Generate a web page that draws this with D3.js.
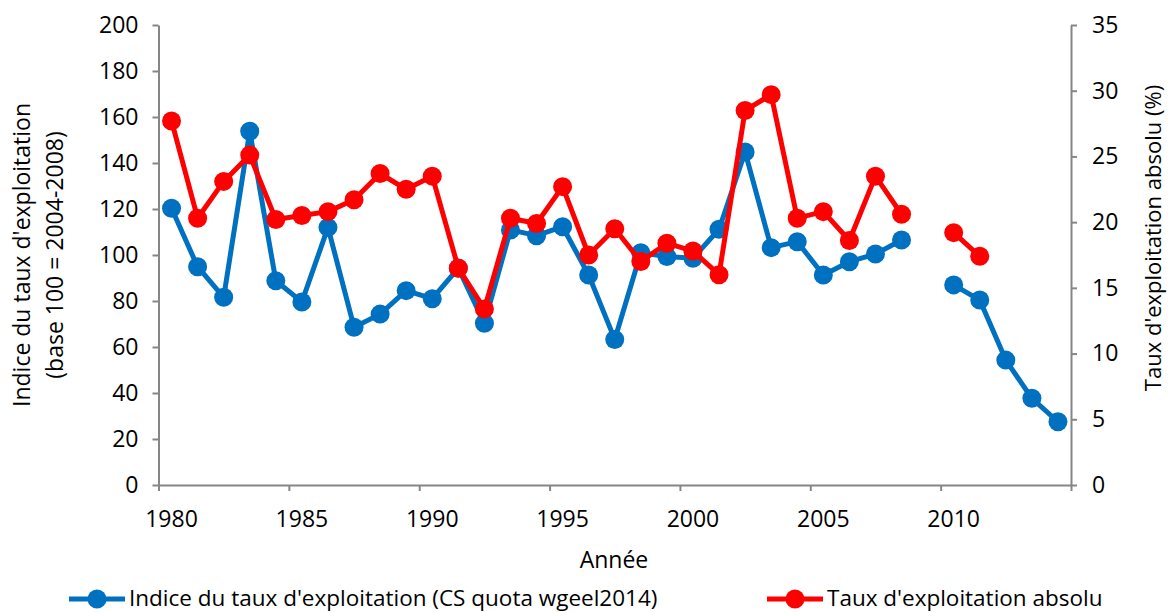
<!DOCTYPE html>
<html>
<head>
<meta charset="utf-8">
<script src="https://cdn.jsdelivr.net/npm/d3@7"></script>
<style>
  body { margin: 0; background: #fff; }
  text { font-family: "Open Sans", sans-serif; fill: #000; }
</style>
</head>
<body>
<script>
// years 1980-2014 (2009 missing)
var years = [1980, 1981, 1982, 1983, 1984, 1985, 1986, 1987, 1988, 1989,
             1990, 1991, 1992, 1993, 1994, 1995, 1996, 1997, 1998, 1999,
             2000, 2001, 2002, 2003, 2004, 2005, 2006, 2007, 2008, 2009,
             2010, 2011, 2012, 2013, 2014];

// Indice du taux d'exploitation (left axis)
var indice = [120.3, 94.9, 81.6, 153.8, 88.8, 79.6, 112, 68.6, 74.3, 84.5,
              81, 94.3, 70.3, 110.9, 108.4, 112.3, 91.3, 63.3, 101, 99.3,
              98.6, 111.2, 144.8, 103.2, 105.8, 91.3, 97.1, 100.4, 106.5, null,
              87, 80.4, 54.3, 37.7, 27.5];

// Taux d'exploitation absolu % (right axis)
var absolu = [27.7, 20.3, 23.1, 25.1, 20.2, 20.5, 20.8, 21.7, 23.7, 22.5,
              23.5, 16.5, 13.4, 20.3, 19.9, 22.7, 17.5, 19.5, 17.0, 18.4,
              17.8, 16.0, 28.5, 29.7, 20.3, 20.8, 18.6, 23.5, 20.6, null,
              19.2, 17.4, null, null, null];

var xTicks = [1980, 1985, 1990, 1995, 2000, 2005, 2010, 2015];
var xLabels = [1980, 1985, 1990, 1995, 2000, 2005, 2010];
var leftTicks = [0, 20, 40, 60, 80, 100, 120, 140, 160, 180, 200];
var rightTicks = [0, 5, 10, 15, 20, 25, 30, 35];

function init(){
    var w = 1169, h = 612;
    var pl = 158.5, pr = 1071, pt = 25, pb = 485;
    var fs = 23;
    var axisColor = "#868686";

    var svg = d3.select("body").append("svg")
        .attr("width", w)
        .attr("height", h);

    var x = d3.scaleLinear().domain([1980, 2015]).range([pl, pr]);
    var yL = d3.scaleLinear().domain([0, 200]).range([pb, pt]);
    var yR = d3.scaleLinear().domain([0, 35]).range([pb, pt]);

    // left axis
    var gL = svg.append("g").attr("transform", "translate(" + pl + ",0)")
        .call(d3.axisLeft(yL).tickValues(leftTicks).tickSize(6).tickSizeOuter(0).tickPadding(14));
    // right axis
    var gR = svg.append("g").attr("transform", "translate(" + pr + ",0)")
        .call(d3.axisRight(yR).tickValues(rightTicks).tickSize(6).tickSizeOuter(0).tickPadding(15));
    // x axis
    var gX = svg.append("g").attr("transform", "translate(0," + pb + ")")
        .call(d3.axisBottom(x).tickValues(xTicks).tickSize(6).tickSizeOuter(0).tickFormat(""));

    [gL, gR, gX].forEach(function(g){
        g.select(".domain").attr("stroke", axisColor).attr("stroke-width", 2);
        g.selectAll(".tick line").attr("stroke", axisColor).attr("stroke-width", 2);
        g.selectAll("text").attr("font-size", fs).attr("font-family", "Open Sans").attr("fill", "#000");
    });

    // x labels sit half a year to the right of their tick
    svg.append("g").selectAll("text")
        .data(xLabels)
        .enter()
        .append("text")
        .attr("x", function(d){ return x(d + 0.5); })
        .attr("y", 527)
        .attr("text-anchor", "middle")
        .attr("font-size", fs)
        .text(function(d){ return d; });

    // axis titles
    svg.append("text")
        .attr("transform", "translate(30,255) rotate(-90)")
        .attr("text-anchor", "middle")
        .attr("font-size", fs)
        .text("Indice du taux d'exploitation");
    svg.append("text")
        .attr("transform", "translate(63,255) rotate(-90)")
        .attr("text-anchor", "middle")
        .attr("font-size", fs)
        .text("(base 100 = 2004-2008)");
    svg.append("text")
        .attr("transform", "translate(1161,238) rotate(-90)")
        .attr("text-anchor", "middle")
        .attr("font-size", 22)
        .text("Taux d'exploitation absolu (%)");
    svg.append("text")
        .attr("x", 614)
        .attr("y", 568)
        .attr("text-anchor", "middle")
        .attr("font-size", fs)
        .text("Année");

    function drawSeries(values, yScale, color){
        var pts = years.map(function(y, i){ return { year: y, v: values[i] }; });
        var line = d3.line()
            .defined(function(d){ return d.v !== null; })
            .x(function(d){ return x(d.year + 0.5); })
            .y(function(d){ return yScale(d.v); });
        var g = svg.append("g");
        g.append("path")
            .datum(pts)
            .attr("d", line)
            .attr("fill", "none")
            .attr("stroke", color)
            .attr("stroke-width", 5)
            .attr("stroke-linejoin", "round");
        g.selectAll("circle")
            .data(pts.filter(function(d){ return d.v !== null; }))
            .enter()
            .append("circle")
            .attr("cx", function(d){ return x(d.year + 0.5); })
            .attr("cy", function(d){ return yScale(d.v); })
            .attr("r", 9.5)
            .attr("fill", color);
    }

    drawSeries(indice, yL, "#0070C0");
    drawSeries(absolu, yR, "#FF0000");

    // legend
    var legend = [
        { label: "Indice du taux d'exploitation (CS quota wgeel2014)", color: "#0070C0", x0: 69 },
        { label: "Taux d'exploitation absolu", color: "#FF0000", x0: 767 }
    ];
    var lg = svg.append("g").selectAll("g")
        .data(legend)
        .enter()
        .append("g")
        .attr("transform", function(d){ return "translate(" + d.x0 + ",599)"; });
    lg.append("line")
        .attr("x1", 0).attr("x2", 56)
        .attr("stroke", function(d){ return d.color; })
        .attr("stroke-width", 5);
    lg.append("circle")
        .attr("cx", 28).attr("r", 9.5)
        .attr("fill", function(d){ return d.color; });
    lg.append("text")
        .attr("x", 60)
        .attr("y", 7)
        .attr("font-size", 22.5)
        .text(function(d){ return d.label; });
}
window.onload = init;
</script>
</body>
</html>
